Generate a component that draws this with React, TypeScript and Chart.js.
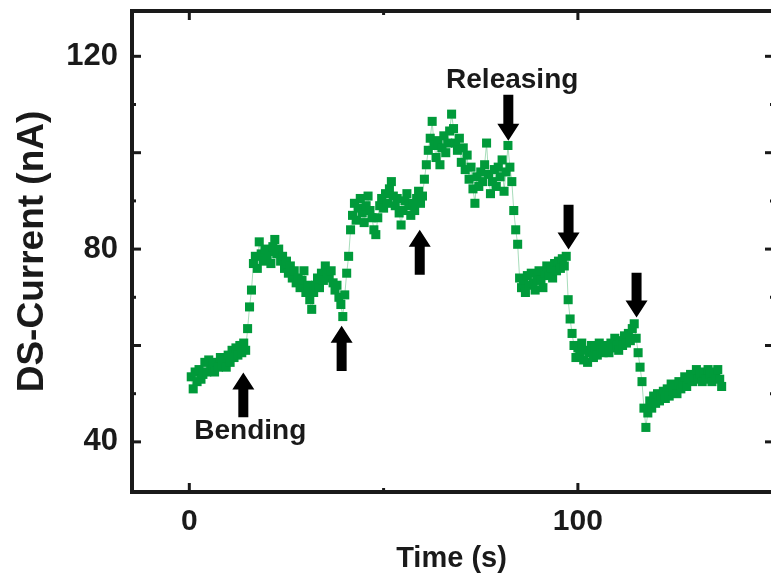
import React, { useEffect, useRef } from "react";
import { Chart, registerables } from "chart.js";

Chart.register(...registerables);

// Sampling of the time series (s)
const T_START = 0.5;
const T_STEP = 0.5;

// Current (nA) segments, in time order
const bendingBase = [53.5, 51.0, 54.5, 52.5, 55.0, 53.0, 54.0, 56.5, 54.5, 57.0, 55.0, 56.0, 54.5, 56.5, 55.5, 57.5, 56.0, 57.0, 55.5, 58.0, 56.5, 59.0, 57.5, 59.5, 58.0, 60.0, 58.5, 60.5, 59.0];
const riseA = [63.5, 68.0, 71.5, 77.0];
const stepA = [78.5, 76.0, 81.5, 79.0, 77.5, 80.0, 78.0, 79.5, 77.0, 80.5, 82.0, 79.0, 80.0, 77.5, 78.5, 76.0, 77.5, 75.0, 76.5, 74.0, 75.5, 73.0, 74.0, 72.0, 73.5, 75.5, 71.0, 72.5, 69.5, 67.5, 71.0, 72.5, 74.0, 72.0, 75.0, 73.5, 76.5, 75.0, 74.0, 75.5, 73.0, 71.5, 72.5, 70.0, 68.5, 66.0];
const riseB = [70.5, 75.0, 78.5, 84.0];
const stepB = [87.0, 89.5, 86.0, 88.5, 90.5, 87.5, 85.5, 89.0, 91.0, 88.0, 86.5, 84.0, 83.0, 86.5, 89.0, 90.5, 88.5, 91.5, 89.5, 92.5, 94.0, 91.0, 89.0, 90.5, 87.5, 85.0, 88.0, 90.0, 91.5, 89.0, 87.0, 89.5, 88.0, 90.5, 92.0, 89.5, 91.0];
const riseC = [94.5, 97.5, 100.5];
const stepC = [103.0, 106.5, 101.5, 99.0, 102.5, 97.5, 101.0, 103.5, 100.0, 102.0, 104.5, 108.0, 105.0, 102.0, 100.5, 103.0, 98.0, 101.0, 96.5, 99.5, 94.5, 97.0, 92.5, 89.5, 95.0, 93.0, 96.0, 94.0, 97.5, 102.0, 95.5, 91.5, 94.0, 96.5, 93.0, 97.0, 95.0, 98.5, 92.0, 96.0, 101.5];
const dropA = [97.0, 94.0, 88.0, 84.0, 81.0];
const stepD = [74.0, 72.0, 73.5, 71.0, 74.5, 72.5, 75.0, 73.0, 71.5, 74.0, 75.5, 73.5, 72.0, 75.0, 76.5, 74.5, 76.0, 74.0, 77.0, 75.5, 77.5, 76.0, 78.0, 76.5, 78.5];
const dropB = [69.5, 65.5, 62.5];
const stepE = [60.0, 57.5, 59.5, 58.0, 60.5, 57.0, 59.0, 56.5, 58.5, 60.0, 57.5, 59.5, 58.0, 60.5, 59.0, 58.5, 60.0, 59.0, 58.5, 60.5, 59.5, 61.5, 60.0, 59.0, 61.0, 60.0, 62.0, 60.5, 62.5, 61.0, 63.5, 64.5];
const dropC = [61.5, 58.5, 55.5, 52.5, 47.0, 43.0];
const stepF = [46.0, 48.5, 47.0, 49.5, 48.0, 50.0, 48.5, 49.5, 50.5, 49.0, 51.0, 49.5, 52.0, 50.5, 51.5, 50.0, 52.5, 51.0, 52.0, 53.5, 51.5, 53.0, 54.0, 52.5, 53.5, 55.0, 53.0, 54.0, 52.5, 54.5, 53.0, 55.0, 54.0, 52.5, 54.5, 53.5, 55.0, 53.0, 51.5];

const current = [
  ...bendingBase, ...riseA, ...stepA, ...riseB, ...stepB, ...riseC,
  ...stepC, ...dropA, ...stepD, ...dropB, ...stepE, ...dropC, ...stepF,
];
const timeSec = current.map((_, i) => T_START + i * T_STEP);

// Axis ticks
const xLabelTicks = [0, 100];
const xMajorTicks = [0, 100];
const xMinorTicks = [50];
const yLabelTicks = [40, 80, 120];
const yMajorTicks = [40, 60, 80, 100, 120];
const yMinorTicks = [50, 70, 90, 110];

// Arrows: x position, tip value, tail value
const arrowX = [13.9, 39.2, 59.3, 82.1, 97.6, 115.1];
const arrowTip = [54.4, 64.1, 84.0, 102.5, 79.9, 65.8];
const arrowTail = [45.1, 54.7, 74.7, 112.0, 89.2, 75.1];

// Annotations
const noteText = ["Bending", "Releasing"];
const noteX = [15.7, 83.1];
const noteY = [42.2, 115.1];

const FONT = "'Liberation Sans', Arial, Helvetica, sans-serif";
const INK = "#1a1a1a";
const GREEN = "#009a3a";
const CANVAS_W = 771;
const CANVAS_H = 585;

const framePlugin = {
  id: "frameTicks",
  afterDatasetsDraw(chart: any) {
    const { ctx, scales } = chart;
    const x = scales.x;
    const y = scales.y;
    ctx.save();
    ctx.fillStyle = "#000";
    for (let i = 0; i < arrowX.length; i++) {
      const px = x.getPixelForValue(arrowX[i]);
      const tip = y.getPixelForValue(arrowTip[i]);
      const tail = y.getPixelForValue(arrowTail[i]);
      const dir = tail > tip ? 1 : -1;
      const headH = 17;
      const headW = 11;
      const shaftW = 5;
      ctx.beginPath();
      ctx.moveTo(px, tip);
      ctx.lineTo(px + headW, tip + dir * headH);
      ctx.lineTo(px + shaftW, tip + dir * headH);
      ctx.lineTo(px + shaftW, tail);
      ctx.lineTo(px - shaftW, tail);
      ctx.lineTo(px - shaftW, tip + dir * headH);
      ctx.lineTo(px - headW, tip + dir * headH);
      ctx.closePath();
      ctx.fill();
    }
    ctx.fillStyle = INK;
    ctx.font = `bold 28px ${FONT}`;
    ctx.textAlign = "center";
    ctx.textBaseline = "middle";
    for (let i = 0; i < noteText.length; i++) {
      ctx.fillText(noteText[i], x.getPixelForValue(noteX[i]), y.getPixelForValue(noteY[i]));
    }
    ctx.restore();
  },
  afterDraw(chart: any) {
    const { ctx, chartArea: a, scales } = chart;
    const x = scales.x;
    const y = scales.y;
    const right = Math.max(a.right, CANVAS_W + 3);
    ctx.save();
    ctx.strokeStyle = INK;
    ctx.lineWidth = 4;
    ctx.strokeRect(a.left, a.top, right - a.left, a.bottom - a.top);
    ctx.lineWidth = 3;
    const seg = (x1: number, y1: number, x2: number, y2: number) => {
      ctx.beginPath();
      ctx.moveTo(x1, y1);
      ctx.lineTo(x2, y2);
      ctx.stroke();
    };
    const xt = (v: number, len: number) => {
      const p = x.getPixelForValue(v);
      seg(p, a.bottom, p, a.bottom - len);
      seg(p, a.top, p, a.top + len);
    };
    const yt = (v: number, len: number) => {
      const p = y.getPixelForValue(v);
      seg(a.left, p, a.left + len, p);
      seg(right, p, right - len, p);
    };
    xMajorTicks.forEach((v) => xt(v, 9));
    xMinorTicks.forEach((v) => xt(v, 4));
    yMajorTicks.forEach((v) => yt(v, 9));
    yMinorTicks.forEach((v) => yt(v, 4));
    ctx.restore();
  },
};

export default function App() {
  const ref = useRef<HTMLCanvasElement | null>(null);
  useEffect(() => {
    if (!ref.current) return;
    const chart = new Chart(ref.current, {
      type: "line",
      data: {
        datasets: [
          {
            data: timeSec.map((t, i) => ({ x: t, y: current[i] })),
            borderColor: "rgba(0,154,58,0.35)",
            borderWidth: 1,
            pointStyle: "rect",
            pointRadius: 6.4,
            pointBackgroundColor: GREEN,
            pointBorderColor: GREEN,
            pointBorderWidth: 0,
            tension: 0,
          },
        ],
      },
      options: {
        responsive: false,
        animation: false,
        events: [],
        layout: { autoPadding: false, padding: { top: 11, right: -4, bottom: 0, left: 0 } },
        plugins: { legend: { display: false }, tooltip: { enabled: false } },
        scales: {
          x: {
            type: "linear",
            min: -14.75,
            max: 149.7,
            grid: { display: false },
            border: { display: false },
            afterBuildTicks: (s: any) => {
              s.ticks = xLabelTicks.map((v) => ({ value: v }));
            },
            afterFit: (s: any) => {
              s.height = 93;
              s.paddingLeft = 0;
              s.paddingRight = 0;
            },
            ticks: {
              autoSkip: false,
              maxRotation: 0,
              padding: 4,
              color: INK,
              font: { family: FONT, size: 30, weight: "bold" },
              callback: (v: any) => String(v),
            },
            title: {
              display: true,
              text: "Time (s)",
              color: INK,
              padding: 9,
              font: { family: FONT, size: 29, weight: "bold" },
            },
          },
          y: {
            type: "linear",
            min: 29.6,
            max: 129.4,
            grid: { display: false },
            border: { display: false },
            afterBuildTicks: (s: any) => {
              s.ticks = yLabelTicks.map((v) => ({ value: v }));
            },
            afterFit: (s: any) => {
              s.width = 132;
              s.paddingTop = 0;
              s.paddingBottom = 0;
            },
            ticks: {
              autoSkip: false,
              padding: 6,
              color: INK,
              font: { family: FONT, size: 31, weight: "bold" },
              callback: (v: any) => String(v),
            },
            title: {
              display: true,
              text: "DS-Current (nA)",
              color: INK,
              padding: 11,
              font: { family: FONT, size: 37, weight: "bold" },
            },
          },
        },
      },
      plugins: [framePlugin],
    } as any);
    return () => chart.destroy();
  }, []);
  return (
    <div style={{ position: "fixed", left: 0, top: 0, width: CANVAS_W, height: CANVAS_H, background: "#fff" }}>
      <canvas ref={ref} width={CANVAS_W} height={CANVAS_H} style={{ display: "block" }} />
    </div>
  );
}
